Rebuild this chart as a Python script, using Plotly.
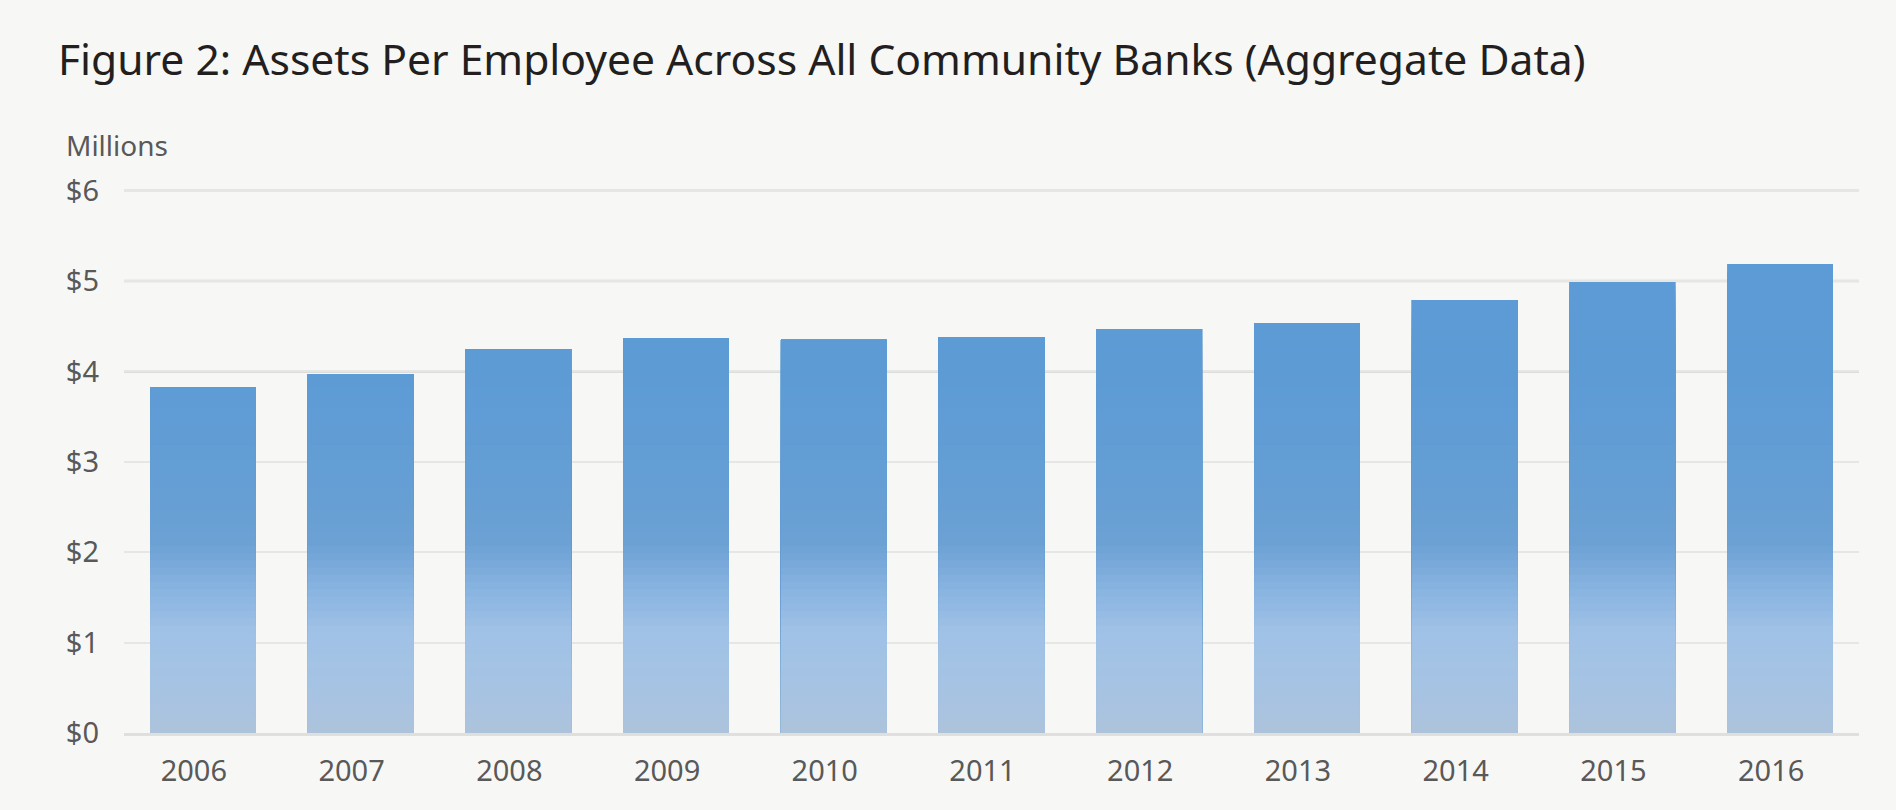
import numpy as np
import plotly.graph_objects as go

years = ["2006", "2007", "2008", "2009", "2010", "2011", "2012", "2013", "2014", "2015", "2016"]
assets_per_employee = [3.82, 3.97, 4.25, 4.37, 4.35, 4.38, 4.47, 4.53, 4.79, 4.99, 5.19]
y_tick_vals = [0, 1, 2, 3, 4, 5, 6]
y_tick_text = ["$0", "$1", "$2", "$3", "$4", "$5", "$6"]
dark_grid_vals = [4, 5, 6]

title_text = "Figure 2: Assets Per Employee Across All Community Banks (Aggregate Data)"
unit_text = "Millions"

BG = "#f7f8f6"

# vertical gradient stops (value level -> colour), styling only
grad_stops = [(0.0, (173, 195, 220)), (0.6, (165, 195, 228)), (1.1, (160, 194, 230)),
              (1.6, (136, 179, 224)), (2.1, (108, 161, 212)), (2.8, (100, 158, 212)),
              (4.0, (93, 155, 213)), (6.0, (91, 155, 213))]


def grad_color(level):
    for (l0, c0), (l1, c1) in zip(grad_stops[:-1], grad_stops[1:]):
        if l0 <= level <= l1:
            t = (level - l0) / (l1 - l0)
            c = [round(a + (b - a) * t) for a, b in zip(c0, c1)]
            return "rgb(%d,%d,%d)" % tuple(c)
    return "rgb(%d,%d,%d)" % grad_stops[-1][1]


vals = np.array(assets_per_employee)
fig = go.Figure()
fig.add_trace(go.Bar(x=years, y=vals, marker=dict(color=grad_color(vals.max()), line=dict(width=0)),
                     hoverinfo="x+y", showlegend=False))
step = 0.08
levels = np.arange(vals.max(), 0.0, -step)
for lv in levels:
    fig.add_trace(go.Bar(x=years, y=np.minimum(vals, lv),
                         marker=dict(color=grad_color(lv - step / 2), line=dict(width=0)),
                         hoverinfo="skip", showlegend=False))

shapes = [dict(type="line", xref="paper", yref="y", x0=0, x1=1, y0=v, y1=v,
               line=dict(color="#d3d3d1", width=2.5), layer="below") for v in dark_grid_vals]

fig.update_layout(
    width=1896, height=810,
    barmode="overlay", bargap=0.33,
    paper_bgcolor=BG, plot_bgcolor=BG,
    margin=dict(l=124, r=37, t=188, b=77),
    font=dict(family="Noto Sans", color="#595959"),
    title=dict(text=title_text, xref="container", yref="container",
               x=58 / 1896, xanchor="left", y=1 - 60 / 810, yanchor="middle",
               font=dict(family="Noto Sans", size=42.6, color="#231f20")),
    xaxis=dict(showgrid=False, showline=True, linecolor="#dfdfdd", linewidth=3,
               tickfont=dict(size=29, color="#595959"), ticks="", ticklabelstandoff=10,
               ticklabelshift=-9),
    yaxis=dict(range=[0, 6.03], tickvals=y_tick_vals, ticktext=y_tick_text,
               showgrid=True, gridcolor="#e6e6e4", gridwidth=2, zeroline=False,
               tickfont=dict(size=29, color="#595959"), ticks="", ticklabelstandoff=24),
    shapes=shapes,
    annotations=[dict(text=unit_text, xref="paper", yref="paper", x=0, y=1,
                      xanchor="left", yanchor="middle", xshift=-60, yshift=43,
                      showarrow=False, font=dict(size=28, color="#595959"))],
)

fig.write_html("out.html", config={"displayModeBar": False},
               post_script="document.body.style.margin='0';document.body.style.background='%s';" % BG)
